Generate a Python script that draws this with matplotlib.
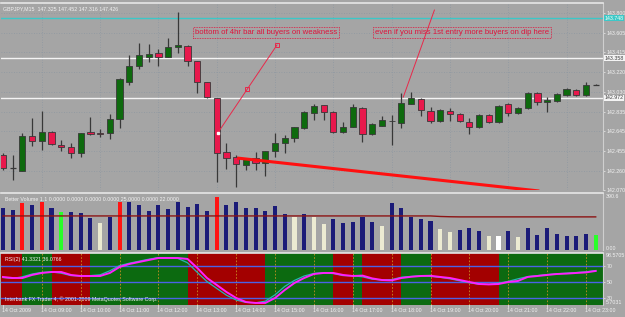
import numpy as np
import matplotlib
matplotlib.use('Agg')
import matplotlib.pyplot as plt
import matplotlib.transforms as mtransforms

plt.rcParams['font.family'] = ['Liberation Sans', 'DejaVu Sans']

# ---- data (GBPJPY M15, 14 Oct 2009) ----
opens = [142.411, 142.284, 142.255, 142.597, 142.548, 142.636, 142.509, 142.489, 142.431, 142.636,
         142.626, 142.626, 142.763, 143.124, 143.280, 143.368, 143.407, 143.368, 143.465, 143.475,
         143.329, 143.124, 142.968, 142.440, 142.392, 142.314, 142.382, 142.333, 142.450, 142.528,
         142.577, 142.675, 142.821, 142.899, 142.831, 142.636, 142.684, 142.870, 142.616, 142.694,
         142.743, 142.724, 142.909, 142.958, 142.841, 142.743, 142.841, 142.811, 142.733, 142.684,
         142.802, 142.733, 142.909, 142.821, 142.870, 143.016, 142.928, 142.938, 142.997, 143.046,
         142.997, 143.094]
highs = [142.431, 142.411, 142.626, 142.772, 142.841, 142.646, 142.558, 142.528, 142.626, 142.782,
         142.665, 142.811, 143.163, 143.387, 143.504, 143.495, 143.446, 143.553, 143.807, 143.485,
         143.329, 143.124, 142.968, 142.528, 142.411, 142.372, 142.440, 142.450, 142.626, 142.606,
         142.684, 142.841, 142.909, 142.899, 142.841, 142.733, 142.909, 142.880, 142.724, 142.792,
         142.802, 143.016, 143.026, 142.968, 142.880, 142.860, 142.870, 142.821, 142.772, 142.811,
         142.811, 142.899, 142.919, 142.880, 143.026, 143.026, 142.977, 143.016, 143.065, 143.055,
         143.124, 143.104]
lows = [142.265, 142.167, 142.255, 142.499, 142.460, 142.509, 142.450, 142.382, 142.392, 142.606,
        142.587, 142.567, 142.675, 143.094, 143.251, 143.319, 143.280, 143.368, 143.407, 143.280,
        143.016, 142.968, 142.148, 142.275, 142.099, 142.265, 142.265, 142.206, 142.392, 142.431,
        142.538, 142.665, 142.753, 142.753, 142.626, 142.626, 142.684, 142.538, 142.606, 142.694,
        142.509, 142.675, 142.909, 142.792, 142.724, 142.733, 142.743, 142.733, 142.616, 142.675,
        142.724, 142.724, 142.792, 142.811, 142.860, 142.899, 142.831, 142.928, 142.987, 142.987,
        142.987, 143.094]
closes = [142.284, 142.280, 142.597, 142.548, 142.636, 142.519, 142.489, 142.431, 142.626, 142.616,
          142.621, 142.763, 143.153, 143.280, 143.387, 143.397, 143.368, 143.465, 143.485, 143.329,
          143.124, 142.977, 142.431, 142.382, 142.323, 142.372, 142.333, 142.450, 142.528, 142.577,
          142.684, 142.831, 142.889, 142.831, 142.636, 142.684, 142.880, 142.616, 142.714, 142.753,
          142.748, 142.919, 142.968, 142.850, 142.743, 142.850, 142.811, 142.743, 142.684, 142.802,
          142.733, 142.889, 142.821, 142.870, 143.016, 142.928, 142.948, 143.007, 143.055, 142.997,
          143.094, 143.094]

volumes = [310, 295, 346, 332, 354, 310, 280, 280, 273, 236,
           199, 243, 354, 354, 332, 287, 332, 302, 354, 317,
           339, 287, 391, 332, 354, 310, 310, 287, 324, 265,
           243, 265, 243, 192, 229, 199, 206, 243, 206, 177,
           346, 310, 240, 229, 214, 155, 133, 147, 162, 140,
           103, 103, 140, 96, 162, 111, 162, 118, 103, 103,
           118, 111]
vol_colors = ['navy', 'navy', 'red', 'navy', 'red', 'navy', 'lime', 'navy', 'navy', 'navy',
              'beige', 'navy', 'red', 'navy', 'navy', 'navy', 'navy', 'navy', 'navy', 'navy',
              'navy', 'navy', 'red', 'navy', 'navy', 'navy', 'navy', 'navy', 'navy', 'navy',
              'beige', 'navy', 'beige', 'beige', 'navy', 'navy', 'navy', 'navy', 'navy', 'beige',
              'navy', 'navy', 'navy', 'navy', 'navy', 'beige', 'beige', 'navy', 'navy', 'navy',
              'beige', 'white', 'navy', 'beige', 'navy', 'navy', 'navy', 'navy', 'navy', 'navy',
              'navy', 'lime']
vol_ma = [251, 251, 251, 251, 251, 251, 251, 251, 251, 251,
          251, 251, 251, 251, 251, 251, 251, 251, 251, 251,
          251, 251, 251, 251, 251, 251, 251, 251, 251, 251,
          251, 251, 251, 251, 251, 251, 251, 251, 251, 251,
          251, 251, 251, 251, 251, 247, 245, 244, 244, 244,
          244, 244, 244, 244, 244, 244, 244, 244, 244, 244,
          244, 244]

rsi_slow = [56.3, 55.0, 55.0, 58.8, 61.3, 62.5, 62.5, 58.8, 57.5, 57.5,
            57.5, 61.3, 68.8, 72.5, 75.0, 77.5, 80.0, 80.0, 80.0, 78.8,
            67.5, 55.0, 46.3, 37.5, 30.0, 25.0, 23.8, 23.8, 30.0, 40.0,
            48.8, 55.0, 60.0, 61.3, 61.3, 58.8, 57.5, 58.0, 54.5, 52.5,
            52.0, 55.0, 56.5, 57.5, 57.8, 56.3, 55.0, 52.5, 50.0, 47.5,
            47.0, 47.5, 50.0, 51.3, 56.3, 57.5, 58.8, 60.0, 60.5, 61.3,
            62.0, 63.8]
rsi_fast = [55.5, 54.5, 56.5, 60.0, 62.0, 62.5, 61.0, 58.0, 57.5, 58.0,
            59.0, 64.0, 70.5, 73.5, 76.0, 78.5, 80.5, 80.5, 79.5, 74.0,
            62.0, 50.5, 42.0, 33.5, 27.5, 24.5, 24.0, 26.0, 34.0, 44.5,
            52.0, 57.5, 60.8, 61.5, 60.5, 58.0, 57.8, 56.5, 53.5, 52.5,
            53.0, 56.0, 57.0, 57.8, 57.0, 55.8, 54.0, 51.5, 49.0, 47.2,
            47.0, 48.5, 50.8, 54.0, 56.8, 58.0, 59.3, 60.3, 61.0, 61.8,
            62.8, 64.3]
rsi_band_edges = [-0.5, 2, 5, 9, 19, 27, 34, 36, 37, 41, 44, 51, 62]
rsi_band_states = ['down', 'up', 'down', 'up', 'down', 'up', 'down', 'up', 'down', 'up', 'down', 'up']
rsi_levels = [70, 50, 30]

price_ticks = [143.800, 143.605, 143.415, 143.220, 143.030, 142.835, 142.645, 142.455, 142.260, 142.070]
hlines_cyan = [143.748]
hlines_white = [143.358, 142.972]

time_bars = [0, 4, 8, 12, 16, 20, 24, 28, 32, 36, 40, 44, 48, 52, 56, 60]
time_labels = ['14 Oct 2009', '14 Oct 09:00', '14 Oct 10:00', '14 Oct 11:00', '14 Oct 12:00',
               '14 Oct 13:00', '14 Oct 14:00', '14 Oct 15:00', '14 Oct 16:00', '14 Oct 17:00',
               '14 Oct 18:00', '14 Oct 19:00', '14 Oct 20:00', '14 Oct 21:00', '14 Oct 22:00',
               '14 Oct 23:00']

# annotation trendlines (bar index, price)
note1_line = ([22.1, 28.2], [142.626, 143.485])
note2_line = ([41.2, 44.4], [142.977, 143.826])
support_line = ([24.1, 55.2], [142.382, 142.060])

# ---- style ----
BG = '#a5a5a5'
GREEN = '#0e6a0e'
RED = '#e8184c'
WICK = '#383838'
TXT = '#f2f2f2'
FS = 3.8
VOLC = {'navy': '#1b1b78', 'red': '#ff1414', 'lime': '#28ff28', 'beige': '#ecebd2', 'white': '#ffffff'}
BANDC = {'up': '#0c6a10', 'down': '#a30000'}

W, H = 625, 317
fig = plt.figure(figsize=(W / 100, H / 100), dpi=100, facecolor=BG)


def px_axes(x0, y0, x1, y1):
    return fig.add_axes([x0 / W, 1 - y1 / H, (x1 - x0) / W, (y1 - y0) / H])


xlim = (-0.2, 61.75)
ax = px_axes(1, 3, 603, 190)
axv = px_axes(1, 193, 603, 250)
axr = px_axes(1, 253, 603, 305)

for a in (ax, axv, axr):
    a.set_facecolor(BG)
    a.set_xlim(*xlim)
    a.set_xticks([])
    for s in ('left', 'bottom'):
        a.spines[s].set_visible(False)
    a.spines['top'].set_color('#e6e6e6')
    a.spines['right'].set_color('#cfcfcf')
    a.spines['top'].set_linewidth(1.2)

bars = np.arange(len(opens))

# main price panel
ax.set_ylim(142.070, 143.895)
ax.yaxis.tick_right()
ax.set_yticks(price_ticks)
ax.set_yticklabels(['%.3f' % p for p in price_ticks])
ax.tick_params(axis='y', length=1.5, width=0.6, color='#e0e0e0', pad=1,
               labelsize=FS, labelcolor=TXT)
for p in price_ticks:
    ax.axhline(p, color='#8e98a2', lw=0.6, ls=(0, (1, 2)), zorder=0)
for b in range(4, 62, 6):
    ax.axvline(b, color='#8e98a2', lw=0.6, ls=(0, (1, 2)), zorder=0)
for p in hlines_cyan:
    ax.axhline(p, color='#3cc8c8', lw=1, zorder=1)
for p in hlines_white:
    ax.axhline(p, color='#f4f4f4', lw=1, zorder=1)

for i in bars:
    o, h, l, c = opens[i], highs[i], lows[i], closes[i]
    ax.vlines(i, l, h, color=WICK, lw=0.9, zorder=2)
    lo, hi = min(o, c), max(o, c)
    if hi - lo < 0.004:
        ax.hlines((o + c) / 2, i - 0.32, i + 0.32, color=WICK, lw=0.9, zorder=3)
    else:
        ax.bar(i, hi - lo, bottom=lo, width=0.64, color=GREEN if c >= o else RED,
               edgecolor=WICK, linewidth=0.6, zorder=3)

ax.plot(*note1_line, color='#e8284a', lw=0.7, zorder=4)
ax.plot([note1_line[0][1], (note1_line[0][0] + note1_line[0][1]) / 2],
        [note1_line[1][1], (note1_line[1][0] + note1_line[1][1]) / 2],
        ls='none', marker='s', ms=2.2, mfc='none', mec='#e8284a', mew=0.7, zorder=5)
ax.plot(note1_line[0][0], note1_line[1][0], ls='none', marker='s', ms=2,
        mfc='white', mec='white', zorder=5)
ax.plot(*note2_line, color='#e8284a', lw=0.7, zorder=4)
ax.plot(*support_line, color='#ff1010', lw=2.2, zorder=4, solid_capstyle='butt')

ax.text(0.004, 0.985, 'GBPJPY,M15  147.325 147.452 147.316 147.426', transform=ax.transAxes,
        ha='left', va='top', fontsize=FS, color=TXT)
for x0, txt in ((195, 'bottom of 4hr bar all buyers on weakness'),
                (375, 'even if you miss 1st entry more buyers on dip here')):
    fig.text(x0 / W, 1 - 32.5 / H, txt, ha='left', va='center', fontsize=5.6, color='#e0143c',
             bbox=dict(boxstyle='square,pad=0.2', fc='none', ec='#e0143c', lw=0.6, ls=(0, (1, 1))))

tr = mtransforms.blended_transform_factory(ax.transAxes, ax.transData)
for p in hlines_cyan:
    ax.text(1.003, p, '%.3f' % p, transform=tr, ha='left', va='center', fontsize=FS,
            color='#f4fff4', bbox=dict(boxstyle='square,pad=0.1', fc='#3cc8c8', ec='none'))
for p in hlines_white:
    ax.text(1.003, p, '%.3f' % p, transform=tr, ha='left', va='center', fontsize=FS,
            color='#404040', bbox=dict(boxstyle='square,pad=0.1', fc='#f4f4f4', ec='none'))

# volume panel
axv.set_ylim(0, 420)
axv.set_yticks([])
axv.bar(bars, volumes, width=0.42, color=[VOLC[c] for c in vol_colors], zorder=2)
axv.plot(bars, vol_ma, color='#8c1414', lw=1, zorder=3)
axv.text(0.006, 0.93, 'Better Volume 1.1 0.0000 0.0000 0.0000 0.0000 25.0000 0.0000 22.0000',
         transform=axv.transAxes, ha='left', va='top', fontsize=FS, color=TXT)
trv = mtransforms.blended_transform_factory(axv.transAxes, axv.transData)
axv.text(1.004, 390.6, '390.6', transform=trv, ha='left', va='center', fontsize=FS, color=TXT)
axv.text(1.004, 8, '0.00', transform=trv, ha='left', va='center', fontsize=FS, color=TXT)

# RSI panel
axr.set_ylim(21.25, 86.25)
for k, st in enumerate(rsi_band_states):
    axr.axvspan(rsi_band_edges[k], rsi_band_edges[k + 1], color=BANDC[st], lw=0, zorder=0)
for b in range(4, 62, 4):
    axr.axvline(b, color='#c89020', lw=0.6, ls=(0, (2, 2)), zorder=1)
for lv in rsi_levels:
    axr.axhline(lv, color='#4a62e6', lw=1, zorder=2)
axr.plot(bars, rsi_fast, color='#2ab4b4', lw=0.9, zorder=3)
axr.plot(bars, rsi_slow, color='#ff20ff', lw=1.4, zorder=4)
axr.yaxis.tick_right()
axr.set_yticks(rsi_levels)
axr.set_yticklabels([str(v) for v in rsi_levels])
axr.tick_params(axis='y', length=1.5, width=0.6, color='#e0e0e0', pad=1,
                labelsize=FS, labelcolor=TXT)
trr = mtransforms.blended_transform_factory(axr.transAxes, axr.transData)
axr.text(1.004, 83.5, '98.5705', transform=trr, ha='left', va='center', fontsize=FS, color=TXT)
axr.text(1.004, 24, '5.7031', transform=trr, ha='left', va='center', fontsize=FS, color=TXT)
axr.text(0.006, 0.93, 'RSI(2) 41.3321 36.0766', transform=axr.transAxes,
         ha='left', va='top', fontsize=FS, color=TXT)
axr.text(0.006, 0.06, 'Interbank FX Trader 4, \u00a9 2001-2009 MetaQuotes Software Corp.',
         transform=axr.transAxes, ha='left', va='bottom', fontsize=FS, color=TXT)

# time axis
trt = mtransforms.blended_transform_factory(axr.transData, axr.transAxes)
for b, lab in zip(time_bars, time_labels):
    axr.text(b - 0.1, -0.05, lab, transform=trt, ha='left', va='top', fontsize=FS,
             color=TXT, clip_on=False)
    axr.plot([b, b], [0, -0.03], color='#e0e0e0', lw=0.6, clip_on=False, transform=trt)

fig.savefig('out.png', dpi=100, facecolor=BG)
